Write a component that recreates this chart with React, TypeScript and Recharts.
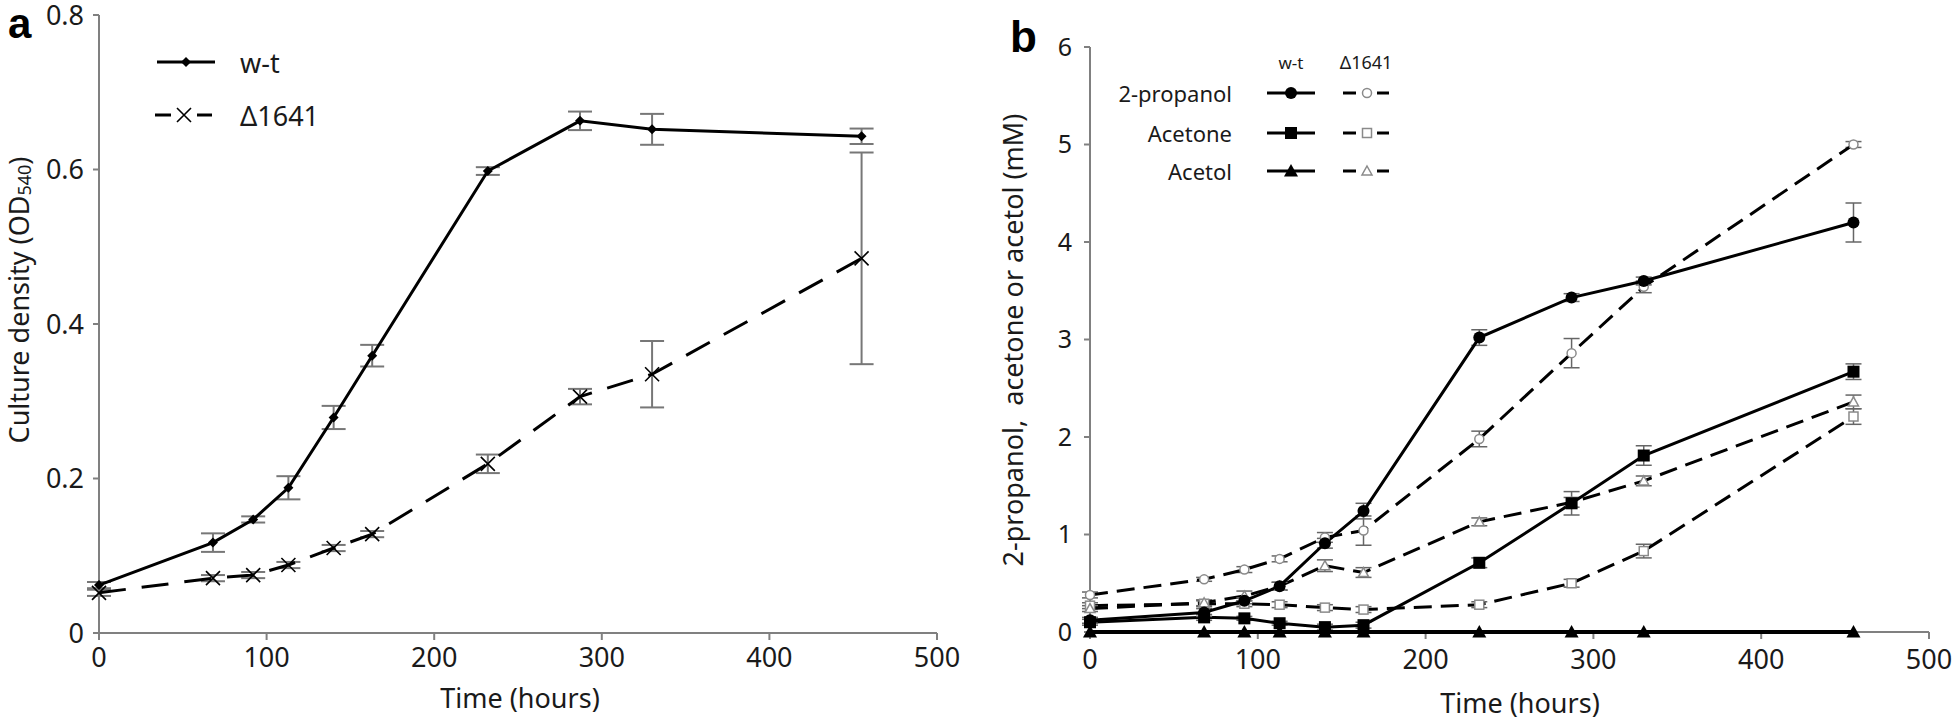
import React from "react";
import { LineChart, Line, XAxis, YAxis, ErrorBar, Legend } from "recharts";

const FONT = "'Noto Sans', 'Open Sans', sans-serif";
const AXIS = "#808080";
const INK = "#1a1a1a";

// sampling times, shared by both panels
const hours = [0, 68, 92, 113, 140, 163, 232, 287, 330, 455];
const timeTicks = [0, 100, 200, 300, 400, 500];

// panel a - growth (OD540)
const odTicks = [0, 0.2, 0.4, 0.6, 0.8];
const odWildType = [0.062, 0.117, 0.147, 0.188, 0.279, 0.359, 0.598, 0.663, 0.652, 0.643];
const odWildTypeErr = [0.004, 0.012, 0.004, 0.015, 0.015, 0.014, 0.005, 0.012, 0.02, 0.01];
const odMutant = [0.052, 0.071, 0.075, 0.088, 0.11, 0.128, 0.219, 0.306, 0.335, 0.485];
const odMutantErr = [0.004, 0.004, 0.004, 0.004, 0.004, 0.004, 0.012, 0.01, 0.043, 0.137];

// panel b - products (mM)
const mmTicks = [0, 1, 2, 3, 4, 5, 6];
const propanolWt = [0.12, 0.2, 0.32, 0.47, 0.91, 1.24, 3.02, 3.43, 3.6, 4.2];
const propanolWtErr = [0.03, 0.04, 0.03, 0.04, 0.05, 0.08, 0.08, 0.04, 0.04, 0.2];
const propanolMut = [0.38, 0.54, 0.64, 0.75, 0.97, 1.04, 1.98, 2.86, 3.54, 5.0];
const propanolMutErr = [0.03, 0.02, 0.03, 0.03, 0.05, 0.15, 0.08, 0.15, 0.06, 0.03];
const acetoneWt = [0.1, 0.15, 0.14, 0.09, 0.05, 0.07, 0.71, 1.32, 1.81, 2.67];
const acetoneWtErr = [0.03, 0.03, 0.02, 0.02, 0.03, 0.03, 0.05, 0.12, 0.1, 0.08];
const acetoneMut = [0.27, 0.29, 0.29, 0.28, 0.25, 0.23, 0.28, 0.5, 0.83, 2.21];
const acetoneMutErr = [0.03, 0.03, 0.03, 0.03, 0.03, 0.03, 0.03, 0.04, 0.07, 0.08];
const acetolWt = [0, 0, 0, 0, 0, 0, 0, 0, 0, 0];
const acetolMut = [0.24, 0.3, 0.37, 0.47, 0.68, 0.61, 1.13, 1.33, 1.55, 2.36];
const acetolMutErr = [0.03, 0.03, 0.05, 0.04, 0.06, 0.05, 0.04, 0.05, 0.05, 0.07];

const growthRows = hours.map((h, i) => ({
  h,
  wt: odWildType[i],
  wtErr: odWildTypeErr[i],
  mut: odMutant[i],
  mutErr: odMutantErr[i],
}));

const productRows = hours.map((h, i) => ({
  h,
  propWt: propanolWt[i],
  propWtErr: propanolWtErr[i],
  propMut: propanolMut[i],
  propMutErr: propanolMutErr[i],
  aceWt: acetoneWt[i],
  aceWtErr: acetoneWtErr[i],
  aceMut: acetoneMut[i],
  aceMutErr: acetoneMutErr[i],
  aolWt: acetolWt[i],
  aolMut: acetolMut[i],
  aolMutErr: acetolMutErr[i],
}));

// ---- markers ----
type DotProps = { cx?: number; cy?: number; index?: number };

const diamond = (cx: number, cy: number, r: number) =>
  `M${cx},${cy - r}L${cx + r},${cy}L${cx},${cy + r}L${cx - r},${cy}Z`;
const triangle = (cx: number, cy: number, r: number) =>
  `M${cx},${cy - r}L${cx + r},${cy + r * 0.8}L${cx - r},${cy + r * 0.8}Z`;

const DiamondDot = ({ cx, cy }: DotProps) =>
  cx == null || cy == null ? null : <path d={diamond(cx, cy, 5)} fill="#000" />;

const CrossDot = ({ cx, cy }: DotProps) =>
  cx == null || cy == null ? null : (
    <path
      d={`M${cx - 7},${cy - 7}L${cx + 7},${cy + 7}M${cx - 7},${cy + 7}L${cx + 7},${cy - 7}`}
      stroke="#000"
      strokeWidth={1.6}
    />
  );

const OPEN = { fill: "#fff", stroke: "#8a8a8a", strokeWidth: 1.5 };

const CircleDot = ({ cx, cy, open }: DotProps & { open?: boolean }) =>
  cx == null || cy == null ? null : open ? (
    <circle cx={cx} cy={cy} r={4.5} {...OPEN} />
  ) : (
    <circle cx={cx} cy={cy} r={6} fill="#000" />
  );

const SquareDot = ({ cx, cy, open }: DotProps & { open?: boolean }) =>
  cx == null || cy == null ? null : open ? (
    <rect x={cx - 4.5} y={cy - 4.5} width={9} height={9} {...OPEN} />
  ) : (
    <rect x={cx - 6} y={cy - 6} width={12} height={12} fill="#000" />
  );

const TriangleDot = ({ cx, cy, open }: DotProps & { open?: boolean }) =>
  cx == null || cy == null ? null : open ? (
    <path d={triangle(cx, cy, 5)} {...OPEN} />
  ) : (
    <path d={triangle(cx, cy, 7)} fill="#000" />
  );

// ---- legends ----
const GrowthLegend = () => (
  <svg width={240} height={110} style={{ overflow: "visible", display: "block" }}>
    <line x1={17} x2={75} y1={27} y2={27} stroke="#000" strokeWidth={3} />
    <path d={diamond(46, 27, 5)} fill="#000" />
    <text x={100} y={27} dominantBaseline="central" fontSize={27} fontFamily={FONT} fill={INK}>
      w-t
    </text>
    <line x1={15} x2={31} y1={80} y2={80} stroke="#000" strokeWidth={3} />
    <line x1={57} x2={72} y1={80} y2={80} stroke="#000" strokeWidth={3} />
    <path d="M37,73L51,87M37,87L51,73" stroke="#000" strokeWidth={1.6} />
    <text x={100} y={80} dominantBaseline="central" fontSize={27} fontFamily={FONT} fill={INK}>
      Δ1641
    </text>
  </svg>
);

const productLegendRows = [
  { label: "2-propanol", y: 53, Mark: CircleDot },
  { label: "Acetone", y: 93, Mark: SquareDot },
  { label: "Acetol", y: 131, Mark: TriangleDot },
];

const ProductLegend = () => (
  <svg width={320} height={160} style={{ overflow: "visible", display: "block" }}>
    <text x={191} y={22} textAnchor="middle" dominantBaseline="central" fontSize={17} fontFamily={FONT} fill={INK}>
      w-t
    </text>
    <text x={266} y={22} textAnchor="middle" dominantBaseline="central" fontSize={18} fontFamily={FONT} fill={INK}>
      Δ1641
    </text>
    {productLegendRows.map(({ label, y, Mark }) => (
      <g key={label}>
        <text x={132} y={y} textAnchor="end" dominantBaseline="central" fontSize={22} fontFamily={FONT} fill={INK}>
          {label}
        </text>
        <line x1={167} x2={215} y1={y} y2={y} stroke="#000" strokeWidth={3} />
        <Mark cx={191} cy={y} />
        <line x1={243} x2={256} y1={y} y2={y} stroke="#000" strokeWidth={3} />
        <line x1={277} x2={289} y1={y} y2={y} stroke="#000" strokeWidth={3} />
        <Mark cx={267} cy={y} open />
      </g>
    ))}
  </svg>
);

const tickStyle = { fontSize: 27, fill: INK, fontFamily: FONT };
const axisLine = { stroke: AXIS, strokeWidth: 2 };

export default function App() {
  return (
    <div style={{ position: "absolute", left: 0, top: 0, width: 1958, height: 726, background: "#fff" }}>
      {/* panel a */}
      <div style={{ position: "absolute", left: 0, top: 0 }}>
        <LineChart width={980} height={726} data={growthRows} margin={{ top: 15, right: 43, bottom: 33, left: 0 }}>
          <XAxis
            dataKey="h"
            type="number"
            domain={[0, 500]}
            ticks={timeTicks}
            tick={tickStyle}
            tickSize={7}
            tickMargin={8}
            axisLine={axisLine}
            tickLine={axisLine}
            height={60}
          />
          <YAxis
            type="number"
            domain={[0, 0.8]}
            ticks={odTicks}
            tickFormatter={(v: number) => (v === 0 ? "0" : v.toFixed(1))}
            tick={tickStyle}
            tickSize={6}
            tickMargin={9}
            axisLine={axisLine}
            tickLine={axisLine}
            width={99}
          />
          <Legend
            layout="horizontal"
            verticalAlign="middle"
            align="center"
            content={() => <GrowthLegend />}
            wrapperStyle={{ left: 140, top: 35, width: 240, height: 110 }}
          />
          <Line
            dataKey="mut"
            type="linear"
            stroke="#000"
            strokeWidth={3}
            strokeDasharray="27 16"
            dot={(p: DotProps) => <CrossDot key={p.index} {...p} />}
            isAnimationActive={false}
          >
            <ErrorBar dataKey="mutErr" width={12} stroke="#777" strokeWidth={2} isAnimationActive={false} />
          </Line>
          <Line
            dataKey="wt"
            type="linear"
            stroke="#000"
            strokeWidth={3}
            dot={(p: DotProps) => <DiamondDot key={p.index} {...p} />}
            isAnimationActive={false}
          >
            <ErrorBar dataKey="wtErr" width={12} stroke="#777" strokeWidth={2} isAnimationActive={false} />
          </Line>
        </LineChart>
      </div>

      {/* panel b */}
      <div style={{ position: "absolute", left: 1000, top: 0 }}>
        <LineChart width={958} height={726} data={productRows} margin={{ top: 47, right: 29, bottom: 34, left: 0 }}>
          <XAxis
            dataKey="h"
            type="number"
            domain={[0, 500]}
            ticks={timeTicks}
            tick={tickStyle}
            tickSize={7}
            tickMargin={11}
            axisLine={axisLine}
            tickLine={axisLine}
            height={60}
          />
          <YAxis
            type="number"
            domain={[0, 6]}
            ticks={mmTicks}
            tick={{ ...tickStyle, fontSize: 25 }}
            tickSize={6}
            tickMargin={12}
            axisLine={axisLine}
            tickLine={axisLine}
            width={90}
          />
          <Legend
            layout="horizontal"
            verticalAlign="middle"
            align="center"
            content={() => <ProductLegend />}
            wrapperStyle={{ left: 100, top: 40, width: 320, height: 160 }}
          />
          <Line
            dataKey="aceMut"
            type="linear"
            stroke="#000"
            strokeWidth={3}
            strokeDasharray="18 9"
            dot={(p: DotProps) => <SquareDot key={p.index} {...p} open />}
            isAnimationActive={false}
          >
            <ErrorBar dataKey="aceMutErr" width={8} stroke="#666" strokeWidth={1.5} isAnimationActive={false} />
          </Line>
          <Line
            dataKey="aolMut"
            type="linear"
            stroke="#000"
            strokeWidth={3}
            strokeDasharray="18 9"
            dot={(p: DotProps) => <TriangleDot key={p.index} {...p} open />}
            isAnimationActive={false}
          >
            <ErrorBar dataKey="aolMutErr" width={8} stroke="#666" strokeWidth={1.5} isAnimationActive={false} />
          </Line>
          <Line
            dataKey="propMut"
            type="linear"
            stroke="#000"
            strokeWidth={3}
            strokeDasharray="18 9"
            dot={(p: DotProps) => <CircleDot key={p.index} {...p} open />}
            isAnimationActive={false}
          >
            <ErrorBar dataKey="propMutErr" width={8} stroke="#666" strokeWidth={1.5} isAnimationActive={false} />
          </Line>
          <Line
            dataKey="aolWt"
            type="linear"
            stroke="#000"
            strokeWidth={4}
            zIndex={900}
            dot={(p: DotProps) => <TriangleDot key={p.index} {...p} />}
            isAnimationActive={false}
          />
          <Line
            dataKey="aceWt"
            type="linear"
            stroke="#000"
            strokeWidth={3}
            dot={(p: DotProps) => <SquareDot key={p.index} {...p} />}
            isAnimationActive={false}
          >
            <ErrorBar dataKey="aceWtErr" width={8} stroke="#666" strokeWidth={1.5} isAnimationActive={false} />
          </Line>
          <Line
            dataKey="propWt"
            type="linear"
            stroke="#000"
            strokeWidth={3}
            dot={(p: DotProps) => <CircleDot key={p.index} {...p} />}
            isAnimationActive={false}
          >
            <ErrorBar dataKey="propWtErr" width={8} stroke="#666" strokeWidth={1.5} isAnimationActive={false} />
          </Line>
        </LineChart>
      </div>

      {/* panel letters and axis titles */}
      <svg
        width={1958}
        height={726}
        style={{ position: "absolute", left: 0, top: 0, pointerEvents: "none" }}
      >
        <text x={8} y={38} fontSize={42} fontWeight="bold" fontFamily="'Liberation Sans', Arial, sans-serif" fill="#000">
          a
        </text>
        <text x={1010} y={52} fontSize={44} fontWeight="bold" fontFamily="'Liberation Sans', Arial, sans-serif" fill="#000">
          b
        </text>
        <text
          transform="translate(18,300) rotate(-90)"
          textAnchor="middle"
          dominantBaseline="central"
          fontSize={27}
          fontFamily={FONT}
          fill={INK}
        >
          Culture density (OD
          <tspan fontSize={18} dy={6}>
            540
          </tspan>
          <tspan dy={-6}>)</tspan>
        </text>
        <text x={520} y={697} textAnchor="middle" dominantBaseline="central" fontSize={27} fontFamily={FONT} fill={INK}>
          Time (hours)
        </text>
        <text
          transform="translate(1012,340) rotate(-90)"
          textAnchor="middle"
          dominantBaseline="central"
          fontSize={27}
          fontFamily={FONT}
          fill={INK}
          style={{ whiteSpace: "pre" }}
        >
          {"2-propanol,  acetone or acetol (mM)"}
        </text>
        <text x={1520} y={702} textAnchor="middle" dominantBaseline="central" fontSize={27} fontFamily={FONT} fill={INK}>
          Time (hours)
        </text>
      </svg>
    </div>
  );
}
